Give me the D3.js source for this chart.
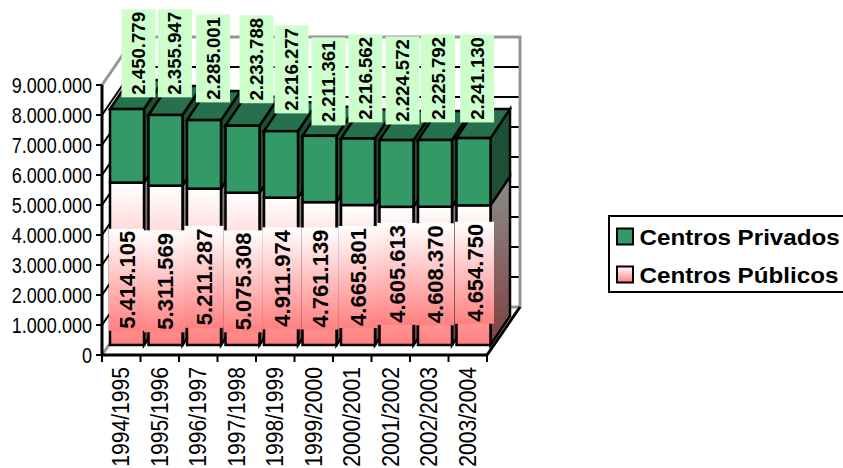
<!DOCTYPE html>
<html><head><meta charset="utf-8">
<script src="https://cdnjs.cloudflare.com/ajax/libs/d3/7.8.5/d3.min.js"></script>
<style>html,body{margin:0;padding:0;background:#fff}svg{display:block}text{font-family:"Liberation Sans",Arial,sans-serif;fill:#000}</style>
</head><body><svg id="c" width="843" height="468"></svg>
<script>
const categories = ["1994/1995","1995/1996","1996/1997","1997/1998","1998/1999","1999/2000","2000/2001","2001/2002","2002/2003","2003/2004"];
const publicos = [5414105,5311569,5211287,5075308,4911974,4761139,4665801,4605613,4608370,4654750];
const privados = [2450779,2355947,2285001,2233788,2216277,2211361,2216562,2224572,2225792,2241130];
const yTicks = [0,1e6,2e6,3e6,4e6,5e6,6e6,7e6,8e6,9e6];
const seriesNames = ["Centros Privados","Centros Públicos"];

// manual label placement offsets (px), as in the original hand-moved labels
const privNudgeX = [11.5,9.4,9,14,10.6,9,7.4,6,3,3.6];
const privNudgeY = [-92.5,-97,-96,-100,-95,-87.6,-93.4,-93,-95,-93.3];
const pubNudgeX = [-0.5,-1,0,0.7,1,0.5,0,0,0,1];
const pubNudgeY = [16,16,10,12.5,7,5,2,-2,-1.6,-2.4];
const pubBoxW = [35,41,39,39,39,37,39,39,38,39];

const svg = d3.select("#c");
const fmt = v => d3.format(",")(v).replace(/,/g,".");
const x = d3.scaleBand().domain(categories).range([102,487]).paddingInner(0).paddingOuter(0);
const y = d3.scaleLinear().domain([0,9e6]).range([355,85]);
const wall = {dx:33, dy:-48}, front = {dx:7, dy:-10}, depth = {dx:19.5, dy:-29}, barW = 34;
const barX = c => x(c) + front.dx + 1;
const barY = v => y(v) + front.dy;

const defs = svg.append("defs");
function grad(id,a,b){const g=defs.append("linearGradient").attr("id",id).attr("x1",0).attr("y1",0).attr("x2",0).attr("y2",1);
  g.append("stop").attr("offset","0").attr("stop-color",a);
  g.append("stop").attr("offset","1").attr("stop-color",b);}
grad("pub","#ffffff","#ff8080");
grad("pubSide","#8c8c8c","#804040");
const GREEN="#339966",GTOP="#27704d",GSIDE="#1b5035",BLK="#000",GREY="#969696";

const pts = a => a.map(p=>p.join(",")).join(" ");
// walls
const x0=x.range()[0], x1=x.range()[1];
svg.append("polygon").attr("points",pts([[x0+wall.dx,y(9e6)+wall.dy],[x1+wall.dx,y(9e6)+wall.dy],[x1+wall.dx,y(0)+wall.dy],[x0+wall.dx,y(0)+wall.dy]])).attr("fill","#fff");
svg.selectAll(".grid").data(yTicks.slice(1,-1)).join("line").attr("x1",x0+wall.dx).attr("x2",x1+wall.dx)
  .attr("y1",d=>y(d)+wall.dy).attr("y2",d=>y(d)+wall.dy).attr("stroke",BLK).attr("stroke-width",2);
svg.selectAll(".side").data(yTicks.slice(1,-1)).join("line").attr("x1",x0).attr("x2",x0+wall.dx)
  .attr("y1",d=>y(d)).attr("y2",d=>y(d)+wall.dy).attr("stroke",BLK).attr("stroke-width",2);
// frame
svg.append("polyline").attr("points",pts([[x0,y(9e6)],[x0+wall.dx,y(9e6)+wall.dy],[x1+wall.dx,y(9e6)+wall.dy],[x1+wall.dx,y(0)+wall.dy],[x0+wall.dx,y(0)+wall.dy],[x0,y(0)]]))
  .attr("fill","none").attr("stroke",GREY).attr("stroke-width",3);
svg.append("line").attr("x1",x1).attr("y1",y(0)).attr("x2",x1+wall.dx).attr("y2",y(0)+wall.dy).attr("stroke",BLK).attr("stroke-width",3);

// bars
categories.forEach((c,i)=>{
  const g=svg.append("g");
  const L=barX(c),R=L+barW,b=barY(0),m=barY(publicos[i]),t=barY(publicos[i]+privados[i]);
  const st=s=>s.attr("stroke",BLK).attr("stroke-width",2.5).attr("stroke-linejoin","miter");
  st(g.append("polygon").attr("points",pts([[R,b],[R+depth.dx,b+depth.dy],[R+depth.dx,m+depth.dy],[R,m]])).attr("fill","url(#pubSide)"));
  st(g.append("polygon").attr("points",pts([[R,m],[R+depth.dx,m+depth.dy],[R+depth.dx,t+depth.dy],[R,t]])).attr("fill",GSIDE));
  st(g.append("polygon").attr("points",pts([[L,t],[L+depth.dx,t+depth.dy],[R+depth.dx,t+depth.dy],[R,t]])).attr("fill",GTOP));
  st(g.append("rect").attr("x",L).attr("y",m).attr("width",barW).attr("height",b-m).attr("fill","url(#pub)"));
  st(g.append("rect").attr("x",L).attr("y",t).attr("width",barW).attr("height",m-t).attr("fill",GREEN));
});

// axes
const axisG=svg.append("g");
axisG.append("line").attr("x1",x0).attr("x2",x1).attr("y1",y(0)).attr("y2",y(0)).attr("stroke",BLK).attr("stroke-width",3);
axisG.append("line").attr("x1",x0).attr("x2",x0).attr("y1",y(0)+1).attr("y2",y(9e6)).attr("stroke",BLK).attr("stroke-width",3);
axisG.selectAll(".yt").data(yTicks).join("line").attr("x1",x0-6).attr("x2",x0).attr("y1",d=>y(d)).attr("y2",d=>y(d)).attr("stroke",BLK).attr("stroke-width",2);
axisG.selectAll(".xt").data(categories.concat(["end"])).join("line")
  .attr("x1",(d,i)=>x0+i*x.step()).attr("x2",(d,i)=>x0+i*x.step()).attr("y1",y(0)).attr("y2",y(0)+7).attr("stroke",BLK).attr("stroke-width",2);
axisG.selectAll(".yl").data(yTicks).join("text").attr("text-anchor","end")
  .attr("transform",d=>`translate(${x0-10},${y(d)+8}) scale(0.82,1)`).style("font-size","22px").text(d=>fmt(d));
axisG.selectAll(".xl").data(categories).join("text").attr("text-anchor","end")
  .attr("transform",d=>`translate(${x(d)+x.bandwidth()/2+8},367) rotate(-90) scale(0.88,1)`).style("font-size","24px").text(d=>d);

// data labels: privados
categories.forEach((c,i)=>{
  const cx=barX(c)+barW/2+privNudgeX[i], cy=barY(publicos[i]+privados[i]/2)+privNudgeY[i];
  svg.append("rect").attr("x",cx-17).attr("y",cy-44).attr("width",34).attr("height",88).attr("fill","#ccffcc");
  svg.append("text").attr("text-anchor","middle").attr("transform",`translate(${cx+6.5},${cy}) rotate(-90)`)
    .style("font-size","18.6px").style("font-weight","bold").text(fmt(privados[i]));
});
// data labels: publicos
categories.forEach((c,i)=>{
  const cx=barX(c)+barW/2+pubNudgeX[i], cy=barY(publicos[i]/2)+pubNudgeY[i], w=pubBoxW[i];
  svg.append("rect").attr("x",cx-w/2).attr("y",cy-51).attr("width",w).attr("height",102).attr("fill","url(#pub)");
  svg.append("text").attr("text-anchor","middle").attr("transform",`translate(${cx+8},${cy}) rotate(-90)`)
    .style("font-size","22px").style("font-weight","bold").text(fmt(publicos[i]));
});

// legend
const lg=svg.append("g");
lg.append("rect").attr("x",609).attr("y",216).attr("width",240).attr("height",76).attr("fill","#fff").attr("stroke",BLK).attr("stroke-width",2);
seriesNames.forEach((n,i)=>{
  const yy=236.5+i*38;
  lg.append("rect").attr("x",617).attr("y",yy-8).attr("width",16).attr("height",16).attr("fill",i?"url(#pub)":GREEN).attr("stroke",BLK).attr("stroke-width",2);
  lg.append("text").attr("transform",`translate(639.5,${yy+8}) scale(1.1,1)`).style("font-size","22px").style("font-weight","bold").text(n);
});
</script></body></html>
